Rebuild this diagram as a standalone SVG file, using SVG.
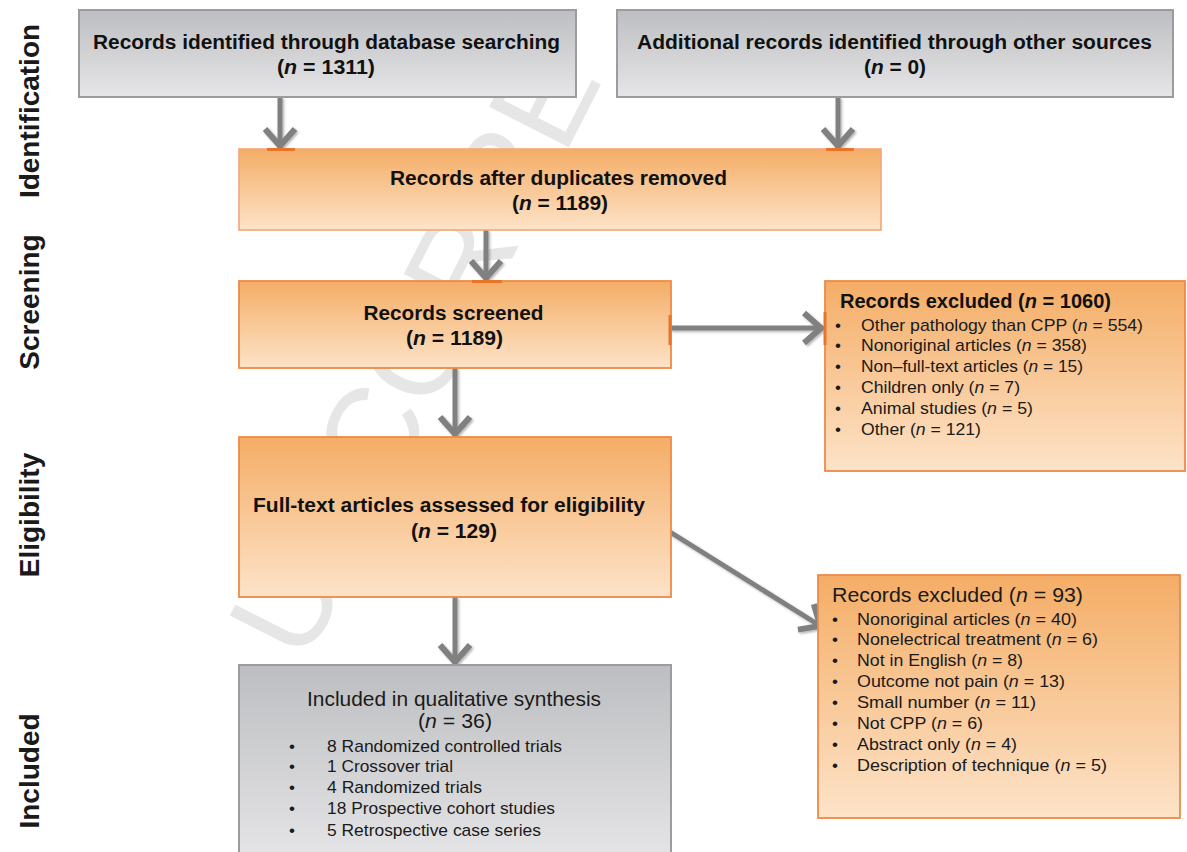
<svg xmlns="http://www.w3.org/2000/svg" width="1187" height="852" viewBox="0 0 1187 852">
<defs>
  <linearGradient id="gGray" x1="0" y1="0" x2="0" y2="1">
    <stop offset="0" stop-color="#bdbec1"/>
    <stop offset="1" stop-color="#e6e6e8"/>
  </linearGradient>
  <linearGradient id="gOrange" x1="0" y1="0" x2="0" y2="1">
    <stop offset="0" stop-color="#f4ad66"/>
    <stop offset="1" stop-color="#fde3c8"/>
  </linearGradient>
  <filter id="sh" x="-20%" y="-20%" width="140%" height="140%">
    <feDropShadow dx="1.5" dy="1.5" stdDeviation="1" flood-color="#000" flood-opacity="0.3"/>
  </filter>
  <marker id="ah" markerUnits="userSpaceOnUse" markerWidth="44" markerHeight="44" viewBox="-30 -22 44 44" refX="0" refY="0" orient="auto" overflow="visible">
    <path d="M-19,-15 L-2,0 L-19,15" fill="none" stroke="#808080" stroke-width="6" stroke-linejoin="miter"/>
  </marker>
</defs>
<style>
  .bt{font-family:"Liberation Sans",Arial,sans-serif;font-weight:bold;font-size:20px;fill:#111;text-anchor:middle}
  .bl{font-family:"Liberation Sans",Arial,sans-serif;font-weight:bold;font-size:20px;fill:#111}
  .rt{font-family:"Liberation Sans",Arial,sans-serif;font-size:17px;fill:#1a1a1a}
  .rc{font-family:"Liberation Sans",Arial,sans-serif;font-size:21px;fill:#1a1a1a;text-anchor:middle}
  .bu{font-family:"Liberation Sans",Arial,sans-serif;font-size:17px;fill:#1a1a1a;text-anchor:middle}
  .lab{font-family:"Liberation Sans",Arial,sans-serif;font-weight:bold;font-size:28px;fill:#1a1a1a;text-anchor:middle}
  .it{font-style:italic}
  .wm{font-family:"Liberation Sans",Arial,sans-serif;font-size:130px;fill:#e6e6e6}
  .gray{fill:url(#gGray);stroke:#9c9c9e;stroke-width:2}
  .orL{fill:url(#gOrange);stroke:#f4a57e;stroke-width:1.6}
  .or{fill:url(#gOrange);stroke:#ee8a48;stroke-width:1.8}
  .arrow{fill:none;stroke:#808080;stroke-width:5;marker-end:url(#ah)}
  .tick{fill:none;stroke:#e8742a;stroke-width:3}
</style>

<g id="watermark">
  <text class="wm" transform="translate(305,665) rotate(-63)">UNCORRE</text>
</g>

<g id="stage-labels">
  <text class="lab" transform="translate(39,111) rotate(-90)">Identification</text>
  <text class="lab" transform="translate(39,302) rotate(-90)">Screening</text>
  <text class="lab" transform="translate(39,515) rotate(-90)">Eligibility</text>
  <text class="lab" transform="translate(39,771) rotate(-90)">Included</text>
</g>

<g id="connectors" filter="url(#sh)">
  <path class="arrow" d="M280,97 V148"/>
  <path class="arrow" d="M838,97 V148"/>
  <path class="arrow" d="M486,230 V280"/>
  <path class="arrow" d="M455,368 V436"/>
  <path class="arrow" d="M455,597 V664"/>
  <path class="arrow" d="M670,328 H823"/>
  <path class="arrow" d="M670,532 L822,627"/>
</g>

<g id="node-db">
  <rect class="gray" x="79" y="10" width="497" height="87"/>
  <text class="bt" x="326.5" y="49" textLength="467" lengthAdjust="spacingAndGlyphs">Records identified through database searching</text>
  <text class="bt" x="326" y="74" textLength="98" lengthAdjust="spacingAndGlyphs">(<tspan class="it">n</tspan> = 1311)</text>
</g>

<g id="node-other">
  <rect class="gray" x="617" y="10" width="556" height="87"/>
  <text class="bt" x="894.5" y="49" textLength="515" lengthAdjust="spacingAndGlyphs">Additional records identified through other sources</text>
  <text class="bt" x="895" y="74" textLength="62" lengthAdjust="spacingAndGlyphs">(<tspan class="it">n</tspan> = 0)</text>
</g>

<g id="node-dedup">
  <rect class="orL" x="239" y="149" width="642" height="81"/>
  <text class="bt" x="558.5" y="185" textLength="337" lengthAdjust="spacingAndGlyphs">Records after duplicates removed</text>
  <text class="bt" x="560" y="210" textLength="96" lengthAdjust="spacingAndGlyphs">(<tspan class="it">n</tspan> = 1189)</text>
</g>

<g id="node-screened">
  <rect class="or" x="239" y="281" width="432" height="87"/>
  <text class="bt" x="453.5" y="320" textLength="180" lengthAdjust="spacingAndGlyphs">Records screened</text>
  <text class="bt" x="454.5" y="345" textLength="97" lengthAdjust="spacingAndGlyphs">(<tspan class="it">n</tspan> = 1189)</text>
</g>

<g id="node-excluded1">
  <rect class="or" x="825" y="281" width="360" height="190"/>
  <text class="bl" x="840" y="308" textLength="271" lengthAdjust="spacingAndGlyphs">Records excluded (<tspan class="it">n</tspan> = 1060)</text>
  <text class="bu" x="838" y="330.5">•</text>
  <text class="bu" x="838" y="351.3">•</text>
  <text class="bu" x="838" y="372.1">•</text>
  <text class="bu" x="838" y="392.9">•</text>
  <text class="bu" x="838" y="413.7">•</text>
  <text class="bu" x="838" y="434.5">•</text>
  <text class="rt" x="861" y="330.5" textLength="282" lengthAdjust="spacingAndGlyphs">Other pathology than CPP (<tspan class="it">n</tspan> = 554)</text>
  <text class="rt" x="861" y="351.3" textLength="226" lengthAdjust="spacingAndGlyphs">Nonoriginal articles (<tspan class="it">n</tspan> = 358)</text>
  <text class="rt" x="861" y="372.1" textLength="222" lengthAdjust="spacingAndGlyphs">Non–full-text articles (<tspan class="it">n</tspan> = 15)</text>
  <text class="rt" x="861" y="392.9" textLength="159" lengthAdjust="spacingAndGlyphs">Children only (<tspan class="it">n</tspan> = 7)</text>
  <text class="rt" x="861" y="413.7" textLength="172" lengthAdjust="spacingAndGlyphs">Animal studies (<tspan class="it">n</tspan> = 5)</text>
  <text class="rt" x="861" y="434.5" textLength="120" lengthAdjust="spacingAndGlyphs">Other (<tspan class="it">n</tspan> = 121)</text>
</g>

<g id="node-fulltext">
  <rect class="or" x="239" y="437" width="432" height="160"/>
  <text class="bt" x="449" y="512" textLength="392" lengthAdjust="spacingAndGlyphs">Full-text articles assessed for eligibility</text>
  <text class="bt" x="454" y="538" textLength="86" lengthAdjust="spacingAndGlyphs">(<tspan class="it">n</tspan> = 129)</text>
</g>

<g id="node-excluded2">
  <rect class="or" x="818" y="575" width="362" height="243"/>
  <text class="rt" style="font-size:21px" x="832" y="602" textLength="251" lengthAdjust="spacingAndGlyphs">Records excluded (<tspan class="it">n</tspan> = 93)</text>
  <text class="bu" x="835" y="625">•</text>
  <text class="bu" x="835" y="645">•</text>
  <text class="bu" x="835" y="666">•</text>
  <text class="bu" x="835" y="687">•</text>
  <text class="bu" x="835" y="708">•</text>
  <text class="bu" x="835" y="729">•</text>
  <text class="bu" x="835" y="750">•</text>
  <text class="bu" x="835" y="771">•</text>
  <text class="rt" x="857" y="625" textLength="220" lengthAdjust="spacingAndGlyphs">Nonoriginal articles (<tspan class="it">n</tspan> = 40)</text>
  <text class="rt" x="857" y="645" textLength="241" lengthAdjust="spacingAndGlyphs">Nonelectrical treatment (<tspan class="it">n</tspan> = 6)</text>
  <text class="rt" x="857" y="666" textLength="166" lengthAdjust="spacingAndGlyphs">Not in English (<tspan class="it">n</tspan> = 8)</text>
  <text class="rt" x="857" y="687" textLength="208" lengthAdjust="spacingAndGlyphs">Outcome not pain (<tspan class="it">n</tspan> = 13)</text>
  <text class="rt" x="857" y="708" textLength="179" lengthAdjust="spacingAndGlyphs">Small number (<tspan class="it">n</tspan> = 11)</text>
  <text class="rt" x="857" y="729" textLength="126" lengthAdjust="spacingAndGlyphs">Not CPP (<tspan class="it">n</tspan> = 6)</text>
  <text class="rt" x="857" y="750" textLength="160" lengthAdjust="spacingAndGlyphs">Abstract only (<tspan class="it">n</tspan> = 4)</text>
  <text class="rt" x="857" y="771" textLength="250" lengthAdjust="spacingAndGlyphs">Description of technique (<tspan class="it">n</tspan> = 5)</text>
</g>

<g id="node-included">
  <rect class="gray" x="239" y="665" width="432" height="200"/>
  <text class="rc" x="454" y="706" textLength="294" lengthAdjust="spacingAndGlyphs">Included in qualitative synthesis</text>
  <text class="rc" x="455" y="728" textLength="74" lengthAdjust="spacingAndGlyphs">(<tspan class="it">n</tspan> = 36)</text>
  <text class="bu" x="292" y="752">•</text>
  <text class="bu" x="292" y="772">•</text>
  <text class="bu" x="292" y="793">•</text>
  <text class="bu" x="292" y="814">•</text>
  <text class="bu" x="292" y="836">•</text>
  <text class="rt" x="327" y="752" textLength="235" lengthAdjust="spacingAndGlyphs">8 Randomized controlled trials</text>
  <text class="rt" x="327" y="772" textLength="126" lengthAdjust="spacingAndGlyphs">1 Crossover trial</text>
  <text class="rt" x="327" y="793" textLength="155" lengthAdjust="spacingAndGlyphs">4 Randomized trials</text>
  <text class="rt" x="327" y="814" textLength="228" lengthAdjust="spacingAndGlyphs">18 Prospective cohort studies</text>
  <text class="rt" x="327" y="836" textLength="214" lengthAdjust="spacingAndGlyphs">5 Retrospective case series</text>
</g>

<g id="connection-ticks">
  <path class="tick" d="M267,149.5 H295"/>
  <path class="tick" d="M826,149.5 H854"/>
  <path class="tick" d="M472,281.5 H502"/>
  <path class="tick" d="M670,315 V345"/>
  <path class="tick" d="M825,312 V345"/>
</g>
</svg>
